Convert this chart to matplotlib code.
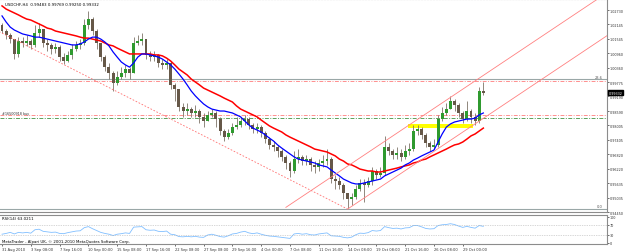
import matplotlib
matplotlib.use('Agg')
import matplotlib.pyplot as plt
import numpy as np

# --- Dados (USDCHF H4, uma vela = 2 barras H4) ---
TITULO = 'USDCHF,H4  0.99483 0.99769 0.99250 0.99332'
PRIMEIRA_ABERTURA = 1.0212

FECHAMENTOS = [
    1.0187, 1.0171, 1.0154, 1.0093, 1.0146, 1.0138, 1.0146, 1.0130, 1.0179, 1.0195,
    1.0138, 1.0130, 1.0113, 1.0121, 1.0080, 1.0064, 1.0089, 1.0113, 1.0130, 1.0138,
    1.0212, 1.0236, 1.0187, 1.0138, 1.0080, 1.0039, 1.0015, 0.9974, 0.9998, 1.0015,
    1.0031, 1.0015, 1.0138, 1.0146, 1.0154, 1.0089, 1.0080, 1.0089, 1.0056, 1.0048,
    1.0056, 0.9966, 0.9949, 0.9876, 0.9859, 0.9867, 0.9851, 0.9859, 0.9835, 0.9818,
    0.9843, 0.9851, 0.9826, 0.9777, 0.9752, 0.9769, 0.9793, 0.9802, 0.9818, 0.9826,
    0.9802, 0.9785, 0.9793, 0.9769, 0.9744, 0.9720, 0.9712, 0.9695, 0.9671, 0.9646,
    0.9613, 0.9662, 0.9671, 0.9654, 0.9662, 0.9638, 0.9630, 0.9646, 0.9654, 0.9662,
    0.9580, 0.9572, 0.9556, 0.9523, 0.9498, 0.9507, 0.9539, 0.9564, 0.9556, 0.9572,
    0.9613, 0.9597, 0.9605, 0.9712, 0.9695, 0.9679, 0.9687, 0.9671, 0.9695, 0.9703,
    0.9777, 0.9785, 0.9761, 0.9728, 0.9712, 0.9720, 0.9826, 0.9851, 0.9867, 0.9900,
    0.9884, 0.9851, 0.9826, 0.9859, 0.9835, 0.9818, 0.9941, 0.99332,
]
MAXIMAS = [
    1.0220, 1.0195, 1.0179, 1.0154, 1.0162, 1.0162, 1.0171, 1.0154, 1.0212, 1.0220,
    1.0195, 1.0154, 1.0138, 1.0138, 1.0130, 1.0097, 1.0105, 1.0134, 1.0146, 1.0154,
    1.0236, 1.0269, 1.0244, 1.0195, 1.0138, 1.0089, 1.0056, 1.0023, 1.0023, 1.0039,
    1.0048, 1.0039, 1.0162, 1.0171, 1.0179, 1.0154, 1.0105, 1.0105, 1.0093, 1.0072,
    1.0072, 1.0064, 0.9974, 0.9949, 0.9892, 0.9892, 0.9876, 0.9884, 0.9867, 0.9851,
    0.9859, 0.9867, 0.9859, 0.9835, 0.9785, 0.9785, 0.9810, 0.9835, 0.9835, 0.9843,
    0.9835, 0.9810, 0.9810, 0.9802, 0.9777, 0.9752, 0.9736, 0.9720, 0.9703, 0.9679,
    0.9654, 0.9695, 0.9703, 0.9679, 0.9679, 0.9671, 0.9654, 0.9662, 0.9679, 0.9703,
    0.9671, 0.9597, 0.9589, 0.9564, 0.9523, 0.9523, 0.9556, 0.9580, 0.9580, 0.9589,
    0.9630, 0.9621, 0.9630, 0.9757, 0.9728, 0.9703, 0.9712, 0.9703, 0.9720, 0.9728,
    0.9802, 0.9802, 0.9793, 0.9769, 0.9736, 0.9744, 0.9843, 0.9876, 0.9892, 0.9921,
    0.9908, 0.9892, 0.9859, 0.9900, 0.9867, 0.9851, 0.9957, 0.99769,
]
MINIMAS = [
    1.0179, 1.0154, 1.0138, 1.0072, 1.0080, 1.0121, 1.0126, 1.0113, 1.0121, 1.0162,
    1.0121, 1.0105, 1.0093, 1.0097, 1.0064, 1.0052, 1.0060, 1.0072, 1.0105, 1.0113,
    1.0130, 1.0195, 1.0171, 1.0113, 1.0064, 1.0023, 0.9990, 0.9941, 0.9966, 0.9990,
    0.9998, 0.9990, 1.0015, 1.0130, 1.0130, 1.0072, 1.0064, 1.0064, 1.0039, 1.0031,
    1.0031, 0.9949, 0.9900, 0.9859, 0.9835, 0.9843, 0.9835, 0.9835, 0.9810, 0.9793,
    0.9818, 0.9835, 0.9793, 0.9761, 0.9736, 0.9744, 0.9761, 0.9785, 0.9793, 0.9802,
    0.9785, 0.9769, 0.9769, 0.9752, 0.9728, 0.9703, 0.9695, 0.9671, 0.9654, 0.9621,
    0.9589, 0.9605, 0.9646, 0.9638, 0.9638, 0.9613, 0.9605, 0.9613, 0.9630, 0.9638,
    0.9564, 0.9539, 0.9539, 0.9498, 0.9461, 0.9474, 0.9498, 0.9531, 0.9486, 0.9548,
    0.9556, 0.9580, 0.9589, 0.9597, 0.9679, 0.9662, 0.9662, 0.9654, 0.9662, 0.9679,
    0.9695, 0.9761, 0.9744, 0.9712, 0.9695, 0.9703, 0.9712, 0.9818, 0.9843, 0.9867,
    0.9859, 0.9835, 0.9810, 0.9818, 0.9810, 0.9802, 0.9810, 0.99250,
]
MEDIA_LENTA = [
    1.0290, 1.0277, 1.0269, 1.0261, 1.0253, 1.0244, 1.0236, 1.0232, 1.0224, 1.0216,
    1.0208, 1.0199, 1.0195, 1.0187, 1.0183, 1.0179, 1.0175, 1.0171, 1.0167, 1.0162,
    1.0158, 1.0158, 1.0154, 1.0150, 1.0146, 1.0138, 1.0130, 1.0126, 1.0117, 1.0109,
    1.0101, 1.0093, 1.0093, 1.0093, 1.0093, 1.0093, 1.0093, 1.0089, 1.0089, 1.0085,
    1.0076, 1.0064, 1.0048, 1.0031, 1.0019, 1.0007, 0.9990, 0.9978, 0.9966, 0.9953,
    0.9945, 0.9937, 0.9929, 0.9921, 0.9912, 0.9904, 0.9896, 0.9880, 0.9867, 0.9859,
    0.9851, 0.9843, 0.9835, 0.9822, 0.9810, 0.9798, 0.9789, 0.9781, 0.9773, 0.9761,
    0.9752, 0.9744, 0.9736, 0.9728, 0.9720, 0.9712, 0.9703, 0.9699, 0.9695, 0.9691,
    0.9683, 0.9675, 0.9662, 0.9654, 0.9642, 0.9638, 0.9630, 0.9621, 0.9617, 0.9613,
    0.9613, 0.9609, 0.9609, 0.9613, 0.9617, 0.9621, 0.9625, 0.9630, 0.9634, 0.9638,
    0.9646, 0.9650, 0.9658, 0.9662, 0.9671, 0.9679, 0.9687, 0.9695, 0.9703, 0.9712,
    0.9720, 0.9724, 0.9732, 0.9744, 0.9757, 0.9765, 0.9777, 0.9789,
]
MEDIA_RAPIDA = [
    1.0249, 1.0224, 1.0203, 1.0191, 1.0183, 1.0175, 1.0171, 1.0167, 1.0162, 1.0162,
    1.0158, 1.0154, 1.0150, 1.0146, 1.0142, 1.0138, 1.0134, 1.0130, 1.0130, 1.0134,
    1.0142, 1.0154, 1.0162, 1.0162, 1.0154, 1.0142, 1.0126, 1.0101, 1.0080, 1.0060,
    1.0048, 1.0039, 1.0056, 1.0080, 1.0093, 1.0093, 1.0089, 1.0085, 1.0080, 1.0072,
    1.0060, 1.0048, 1.0031, 1.0011, 0.9990, 0.9966, 0.9941, 0.9921, 0.9904, 0.9888,
    0.9876, 0.9867, 0.9863, 0.9859, 0.9859, 0.9855, 0.9851, 0.9843, 0.9835, 0.9818,
    0.9802, 0.9789, 0.9781, 0.9773, 0.9761, 0.9748, 0.9736, 0.9720, 0.9707, 0.9695,
    0.9683, 0.9671, 0.9662, 0.9658, 0.9654, 0.9650, 0.9646, 0.9638, 0.9634, 0.9630,
    0.9617, 0.9605, 0.9593, 0.9580, 0.9572, 0.9564, 0.9560, 0.9560, 0.9564, 0.9568,
    0.9572, 0.9576, 0.9580, 0.9593, 0.9601, 0.9609, 0.9617, 0.9625, 0.9638, 0.9646,
    0.9658, 0.9666, 0.9675, 0.9683, 0.9691, 0.9699, 0.9732, 0.9765, 0.9793, 0.9806,
    0.9814, 0.9818, 0.9822, 0.9826, 0.9826, 0.9830, 0.9843, 0.9851,
]
RSI = [
    33, 36, 40, 34, 40, 38, 40, 37, 50, 52,
    44, 42, 40, 41, 36, 35, 39, 42, 45, 46,
    58, 62, 54, 47, 40, 36, 33, 28, 33, 35,
    38, 36, 60, 61, 62, 50, 48, 49, 44, 43,
    45, 33, 31, 24, 23, 25, 23, 25, 22, 21,
    30, 33, 29, 24, 22, 27, 34, 36, 41, 44,
    38, 35, 38, 33, 29, 26, 25, 23, 21, 19,
    17, 34, 36, 33, 35, 31, 30, 34, 36, 38,
    27, 26, 25, 21, 19, 22, 31, 37, 36, 39,
    47, 45, 47, 62, 58, 55, 56, 53, 57, 58,
    66, 66, 61, 55, 53, 54, 66, 69, 70, 73,
    70, 64, 59, 63, 59, 56, 66, 63.02,
]
RSI_TEXTO = 'RSI(14) 63.0211'
RSI_NIVEIS = [70, 30]
RSI_TICKS = [100, 70, 30, 0]

ROTULOS_TEMPO = ['31 Aug 2010', '3 Sep 08:00', '7 Sep 16:00', '10 Sep 00:00', '15 Sep 08:00',
                 '17 Sep 16:00', '22 Sep 08:00', '27 Sep 08:00', '29 Sep 16:00', '4 Oct 00:00',
                 '7 Oct 08:00', '11 Oct 16:00', '14 Oct 08:00', '19 Oct 08:00', '21 Oct 16:00',
                 '26 Oct 08:00', '29 Oct 00:00']
VELAS_POR_ROTULO = 7

PRECOS_EIXO = [0.94450, 0.95035, 0.95635, 0.96220, 0.96820, 0.97405, 0.98005, 0.98590,
               0.99190, 0.99775, 1.00360, 1.00960, 1.01545, 1.02145, 1.02730]
PRECO_ATUAL = 0.99332

FIBO_NOMES = ['23.6', '0.0']
FIBO_PRECOS = [0.9990, 0.9459]
LINHAS_VERMELHAS = [0.9982, 0.9843]
LINHA_ORDEM = 0.9830
TEXTO_ORDEM = '#16500918 buy'

# linhas de tendencia: (velas, precos)
TENDENCIA_BAIXA = ([-1, 84], [1.0187, 0.9457])
CANAL_INFERIOR = ([84, 150], [0.9457, 1.0201])
CANAL_SUPERIOR = ([69, 150], [0.9464, 1.0377])
ZONA_VELAS = (98.7, 114.5)
ZONA_PRECOS = (0.9789, 0.9806)

RODAPE = 'MetaTrader - Alpari UK, \u00a9 2001-2010 MetaQuotes Software Corp.'

# --- Desenho ---
plt.rcParams['font.family'] = ['DejaVu Sans']
W, H = 625, 253
fig = plt.figure(figsize=(W / 100, H / 100), dpi=100)
fig.patch.set_facecolor('white')

ax = fig.add_axes([0, 1 - 213 / H, 607 / W, 213 / H])
ax_rsi = fig.add_axes([0, 1 - 245 / H, 607 / W, 29 / H])

x_min, x_max = -0.49, 147.06
cinza = '#8c8c8c'

fech = np.array(FECHAMENTOS)
aber = np.concatenate([[PRIMEIRA_ABERTURA], fech[:-1]])
maxi = np.array(MAXIMAS)
mini = np.array(MINIMAS)
idx = np.arange(len(fech))
alta = fech >= aber

# faixa amarela
ax.fill_between(ZONA_VELAS, ZONA_PRECOS[0], ZONA_PRECOS[1], color='#ffff00', lw=0, zorder=1.5)

# linhas horizontais
for nome, p in zip(FIBO_NOMES, FIBO_PRECOS):
    ax.axhline(p, color='#9aa7a7', lw=0.8, zorder=1)
    ax.text(0.993, p + 0.0002, nome, transform=ax.get_yaxis_transform(), ha='right', va='bottom',
            fontsize=2.6, color='#555555')
for p in LINHAS_VERMELHAS:
    ax.axhline(p, color='#ff8f8f', lw=0.7, ls=(0, (4, 1.5, 1, 1.5)), zorder=1)
ax.axhline(LINHA_ORDEM, color='#5aa05a', lw=0.7, ls=(0, (4, 1.5, 1, 1.5)), zorder=1)
ax.text(0.004, LINHAS_VERMELHAS[1] + 0.0001, TEXTO_ORDEM, transform=ax.get_yaxis_transform(),
        ha='left', va='bottom', fontsize=2.4, color='#333333')

# velas
ax.vlines(idx, mini, maxi, color='#7d7468', lw=0.6, zorder=2)
ax.bar(idx[alta], (fech - aber)[alta], bottom=aber[alta], width=0.72, color='#2f9a2f',
       lw=0, zorder=2.5)
ax.bar(idx[~alta], (fech - aber)[~alta], bottom=aber[~alta], width=0.72, color='#665848',
       lw=0, zorder=2.5)

# medias moveis
ax.plot(idx, MEDIA_LENTA, color='#ff0000', lw=1.1, zorder=3)
ax.plot(idx, MEDIA_RAPIDA, color='#0000ff', lw=0.9, zorder=3)

# tendencia e canal
ax.plot(*TENDENCIA_BAIXA, color='#ff7070', lw=0.6, ls=(0, (2, 2)), zorder=4)
ax.plot(*CANAL_INFERIOR, color='#ff8080', lw=0.6, zorder=4)
ax.plot(*CANAL_SUPERIOR, color='#ff8080', lw=0.6, zorder=4)

ax.set_xlim(x_min, x_max)
ax.set_ylim(0.94450, 1.03183)
ax.yaxis.tick_right()
ax.set_yticks(PRECOS_EIXO)
ax.set_yticklabels([f'{p:.5f}' for p in PRECOS_EIXO])
ax.tick_params(axis='y', labelsize=2.4, length=1.2, width=0.5, pad=0.6, colors='#333333')
ax.set_xticks([])
for lado in ['left', 'top', 'bottom', 'right']:
    ax.spines[lado].set_color(cinza)
    ax.spines[lado].set_linewidth(0.8)
ax.spines['left'].set_visible(False)
ax.spines['top'].set_linestyle(':')

ax.text(0.008, 0.985, TITULO, transform=ax.transAxes, ha='left', va='top', fontsize=2.8,
        color='black')
ax.annotate(f'{PRECO_ATUAL:.5f}', xy=(1, PRECO_ATUAL), xycoords=('axes fraction', 'data'),
            xytext=(1.0, 0), textcoords='offset points', ha='left', va='center', fontsize=2.4,
            color='white', annotation_clip=False, zorder=10,
            bbox=dict(boxstyle='square,pad=0.15', fc='black', ec='black'))

# painel RSI
ax_rsi.plot(idx, RSI, color='#80bfff', lw=0.6)
for nivel in RSI_NIVEIS:
    ax_rsi.axhline(nivel, color='#b0b0b0', lw=0.5, ls=(0, (1, 1.5)))
ax_rsi.set_xlim(x_min, x_max)
ax_rsi.set_ylim(-4.3, 106.2)
ax_rsi.yaxis.tick_right()
ax_rsi.set_yticks(RSI_TICKS)
ax_rsi.set_yticklabels([str(v) for v in RSI_TICKS])
ax_rsi.tick_params(axis='y', labelsize=2.4, length=1.2, width=0.5, pad=0.6, colors='#333333')
pos_tempo = [k * VELAS_POR_ROTULO for k in range(len(ROTULOS_TEMPO))]
ax_rsi.set_xticks(pos_tempo)
ax_rsi.set_xticklabels(ROTULOS_TEMPO, ha='left')
ax_rsi.tick_params(axis='x', labelsize=2.6, length=1.5, width=0.5, pad=0.8, colors='#333333')
for lado in ['left', 'top', 'bottom', 'right']:
    ax_rsi.spines[lado].set_color(cinza)
    ax_rsi.spines[lado].set_linewidth(0.8)
ax_rsi.spines['left'].set_visible(False)
ax_rsi.text(0.004, 0.97, RSI_TEXTO, transform=ax_rsi.transAxes, ha='left', va='top',
            fontsize=2.8, color='black')
ax_rsi.text(0.004, 0.03, RODAPE, transform=ax_rsi.transAxes, ha='left', va='bottom',
            fontsize=2.8, color='black')

fig.savefig('out.png', dpi=100)
